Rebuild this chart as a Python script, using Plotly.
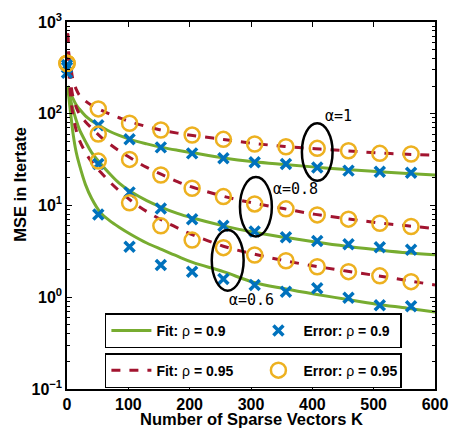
import plotly.graph_objects as go

# sample positions (number of sparse vectors K)
k_err = [0, 51, 102, 153, 204, 255, 306, 357, 408, 459, 510, 561]
k_fit = [1, 3, 6, 10, 15, 20, 30, 40, 55, 70, 85, 105, 130, 155, 180, 205,
         255, 305, 355, 405, 455, 505, 555, 600]

# measured MSE, rho = 0.9 (blue crosses)
err09_a10 = [340, 75, 52.6, 43, 37, 32.7, 29.6, 28.3, 26, 24, 23.3, 22.7]
err09_a08 = [320, 28.3, 13.9, 9.3, 7.1, 6.0, 5.2, 4.5, 4.1, 3.78, 3.5, 3.3]
err09_a06 = [280, 8.0, 3.56, 2.24, 1.9, 1.58, 1.36, 1.15, 1.25, 0.99, 0.82, 0.80]

# measured MSE, rho = 0.95 (orange circles)
err095_a10 = [355, 113, 78.7, 66.5, 58.6, 52.6, 46.8, 43.7, 42, 39.5, 37, 36.4]
err095_a08 = [355, 60, 31.8, 21.5, 15.4, 12.5, 10.4, 9.2, 7.9, 7.1, 6.4, 5.9]
err095_a06 = [355, 30.5, 10.7, 6.0, 4.2, 3.47, 2.89, 2.5, 2.15, 1.9, 1.71, 1.48]

# fitted curves, rho = 0.9 (green)
fit09_a10 = [200, 185, 165, 145, 125, 113, 95, 84, 73, 64, 58, 52, 47, 43, 40,
             37.5, 33, 30, 28, 26.2, 24.7, 23.4, 22.3, 21.5]
fit09_a08 = [200, 175, 140, 110, 85, 68, 50, 38, 28.5, 22, 17.5, 14, 11.3, 9.5,
             8.2, 7.3, 6.0, 5.1, 4.5, 4.0, 3.6, 3.3, 3.05, 2.9]
fit09_a06 = [200, 150, 100, 60, 38, 28, 17, 12, 8.3, 6.8, 5.8, 4.8, 3.9, 3.3,
             2.8, 2.4, 1.9, 1.45, 1.24, 1.08, 0.95, 0.84, 0.76, 0.69]

# fitted curves, rho = 0.95 (red dashed)
fit095_a10 = [750, 450, 330, 230, 185, 160, 138, 124, 110, 99, 90.5, 81, 72.5, 66,
              61.5, 58, 52.5, 47.5, 44, 41.5, 39.5, 37.5, 36.2, 35.3]
fit095_a08 = [750, 400, 220, 150, 118, 100, 82, 70, 56, 46.5, 39.5, 32.5, 26, 21.7,
              18.2, 15.8, 12.6, 10.6, 9.2, 8.0, 7.2, 6.5, 6.0, 5.6]
fit095_a06 = [750, 300, 150, 95, 66, 52, 38, 30, 23, 18, 14.5, 11.2, 8.6, 6.9, 5.7,
              4.8, 3.6, 2.95, 2.5, 2.18, 1.93, 1.72, 1.52, 1.36]

# annotation groups: ellipse bounds (K range, MSE range) and labels
ell_k = [(383, 433), (282, 334), (236, 288)]
ell_mse = [(18.6, 78.7), (4.6, 20.4), (1.18, 5.4)]
alpha_text = ['α=1', 'α=0.8', 'α=0.6']
alpha_k = [443, 373, 301]
alpha_log_mse = [1.975, 1.176, -0.03]

GREEN = '#77AC30'
RED = '#A2142F'
BLUE = '#0072BD'
ORANGE = '#EDB120'
FONT = 'Liberation Sans, Arial, sans-serif'

fig = go.Figure()

# fits first so markers sit on top
for i, ys in enumerate([fit09_a10, fit09_a08, fit09_a06]):
    fig.add_trace(go.Scatter(
        x=k_fit, y=ys, mode='lines', line=dict(color=GREEN, width=3, shape='spline'),
        name='<b>Fit:</b> ρ <b>= 0.9</b>', showlegend=(i == 0), legend='legend'))
for i, ys in enumerate([fit095_a10, fit095_a08, fit095_a06]):
    fig.add_trace(go.Scatter(
        x=k_fit, y=ys, mode='lines',
        line=dict(color=RED, width=3, dash='dash', shape='spline'),
        name='<b>Fit:</b> ρ <b>= 0.95</b>', showlegend=(i == 0), legend='legend2'))

for i, ys in enumerate([err09_a10, err09_a08, err09_a06]):
    fig.add_trace(go.Scatter(
        x=k_err, y=ys, mode='markers', cliponaxis=False,
        marker=dict(symbol='x-thin', size=10, line=dict(color=BLUE, width=3.5)),
        name='<b>Error:</b> ρ <b>= 0.9</b>', showlegend=(i == 0), legend='legend'))
for i, ys in enumerate([err095_a10, err095_a08, err095_a06]):
    fig.add_trace(go.Scatter(
        x=k_err, y=ys, mode='markers', cliponaxis=False,
        marker=dict(symbol='circle-open', size=15, color=ORANGE,
                    line=dict(color=ORANGE, width=2.5)),
        name='<b>Error:</b> ρ <b>= 0.95</b>', showlegend=(i == 0), legend='legend2'))

# ellipses marking each alpha group
for (x0, x1), (ylo, yhi) in zip(ell_k, ell_mse):
    fig.add_shape(type='circle', xref='x', yref='y', x0=x0, x1=x1, y0=ylo, y1=yhi,
                  line=dict(color='black', width=2.5))

for lx, ly, txt in zip(alpha_k, alpha_log_mse, alpha_text):
    fig.add_annotation(x=lx, y=ly, text=txt, showarrow=False,
                       font=dict(family='DejaVu Sans Mono', size=15, color='black'))

# axis titles placed by hand
fig.add_annotation(xref='paper', yref='paper', x=-0.128, y=0.559, textangle=-90,
                   xanchor='center', yanchor='middle',
                   text='<b>MSE in Itertate</b>', showarrow=False,
                   font=dict(family=FONT, size=16.5, color='black'))
fig.add_annotation(xref='paper', yref='paper', x=0.5, y=-0.082,
                   xanchor='center', yanchor='middle',
                   text='<b>Number of Sparse Vectors K</b>', showarrow=False,
                   font=dict(family=FONT, size=16.5, color='black'))

legend_style = dict(orientation='h', xanchor='left', yanchor='top',
                    bgcolor='white', bordercolor='black', borderwidth=1.5,
                    entrywidth=92, entrywidthmode='pixels', itemwidth=40,
                    font=dict(family=FONT, size=14, color='black'))

fig.update_layout(
    width=450, height=432,
    margin=dict(l=67, r=15, t=22, b=43, autoexpand=False),
    paper_bgcolor='white', plot_bgcolor='white',
    font=dict(family=FONT, color='black'),
    legend=dict(x=0.103, y=0.206, **legend_style),
    legend2=dict(x=0.103, y=0.098, **legend_style),
)

fig.update_xaxes(
    range=[0, 600], tickvals=[0, 100, 200, 300, 400, 500, 600], automargin=False,
    ticks='inside', ticklen=5, tickcolor='black', showline=True, linecolor='black',
    linewidth=1.5, mirror='ticks', showgrid=False, zeroline=False,
    tickfont=dict(family=FONT, size=16, weight='bold'))

fig.update_yaxes(
    type='log', range=[-1, 3], tickvals=[0.1, 1, 10, 100, 1000], automargin=False,
    ticktext=['10<sup>−1</sup>', '10<sup>0</sup>', '10<sup>1</sup>', '10<sup>2</sup>', '10<sup>3</sup>'],
    ticks='inside', ticklen=5, tickcolor='black', showline=True, linecolor='black',
    linewidth=1.5, mirror='ticks', showgrid=False, zeroline=False,
    minor=dict(ticks='inside', ticklen=3, tickcolor='black', dtick='D1', showgrid=False),
    tickfont=dict(family=FONT, size=16, weight='bold'))

# drop the default page margin so the figure starts at the window corner
fig.write_html("out.html", config={'displayModeBar': False},
               post_script="document.body.style.margin='0';")
